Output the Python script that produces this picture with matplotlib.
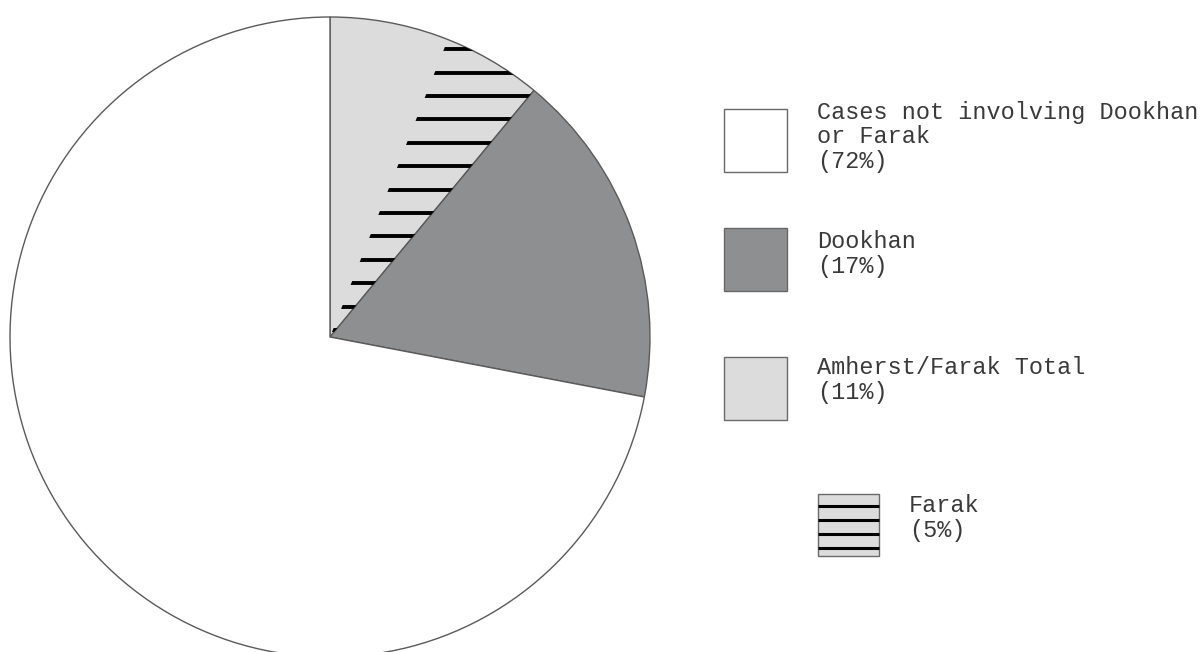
import numpy as np
import matplotlib.pyplot as plt
from matplotlib.patches import Wedge, Rectangle

# data
labels = ['Amherst/Farak Total', 'Dookhan', 'Cases not involving Dookhan\nor Farak']
shares = [11, 17, 72]
colors = ['#dcdcdc', '#8e8f91', 'white']
farak_share = 5

legend_items = [
    ('Cases not involving Dookhan\nor Farak', 72, 'white'),
    ('Dookhan', 17, '#8e8f91'),
    ('Amherst/Farak Total', 11, '#dcdcdc'),
]

W, H = 1201, 652
fig = plt.figure(figsize=(W / 100, H / 100), dpi=100)
ax = fig.add_axes([0, 0, 1, 1])

def py(y):
    # pixel row (from top) -> data y
    return H - y

cx, cy, r = 330, py(337), 320
wedges, _ = ax.pie(shares, colors=colors, startangle=90, counterclock=False,
                   center=(cx, cy), radius=r,
                   wedgeprops=dict(edgecolor='#5a5a5a', linewidth=1.0))

# Farak part of the Amherst/Farak slice, next to Dookhan, hatched
t1 = 90 - shares[0] * 3.6
t2 = t1 + farak_share * 3.6
farak = Wedge((cx, cy), r, t1, t2, facecolor='none', edgecolor='none')
ax.add_patch(farak)
hy = py(np.arange(330, 20, -23.4))
hl = ax.hlines(hy, cx - 10, cx + r, colors='black', linewidth=2.8)
hl.set_clip_path(farak)

font = dict(family=['Liberation Mono', 'DejaVu Sans Mono'], fontsize=16.9, color='#3a3a3a')

def legend_text(x, y_top, text):
    for i, line in enumerate(text.split('\n')):
        ax.text(x, py(y_top + i * 24.8), line, va='center', ha='left', **font)

box_tops = [109, 228, 357]
text_tops = [112, 242, 368]
for (lab, pct, col), bt, tt in zip(legend_items, box_tops, text_tops):
    ax.add_patch(Rectangle((724, py(bt + 63)), 63, 63, facecolor=col,
                           edgecolor='#6a6a6a', linewidth=1.0))
    legend_text(817, tt, lab + '\n(%d%%)' % pct)

# Farak legend entry
ax.add_patch(Rectangle((818, py(556)), 61, 62, facecolor='#dcdcdc',
                       edgecolor='#6a6a6a', linewidth=1.0))
ax.hlines(py(np.array([506, 520, 534, 548])), 818, 879, colors='black', linewidth=2.2)
legend_text(909, 506, 'Farak\n(%d%%)' % farak_share)

ax.set_xlim(0, W)
ax.set_ylim(0, H)
ax.set_aspect('equal')
ax.axis('off')
fig.savefig('out.png', dpi=100)
